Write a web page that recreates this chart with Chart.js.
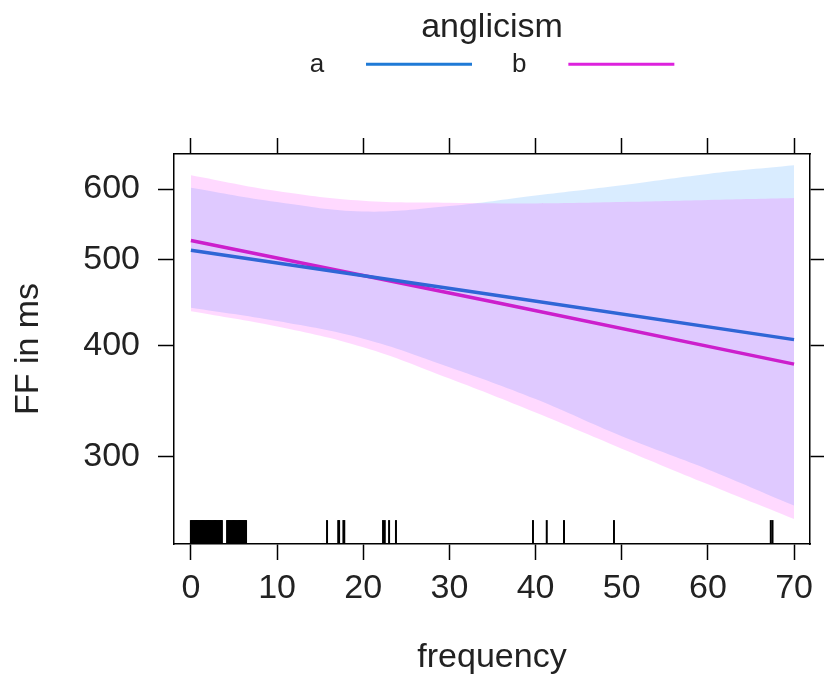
<!DOCTYPE html>
<html>
<head>
<meta charset="utf-8">
<script src="https://cdn.jsdelivr.net/npm/chart.js@4.4.0/dist/chart.umd.min.js"></script>
<style>
  html, body { margin: 0; padding: 0; background: #fff; }
</style>
</head>
<body>
<canvas id="chart" width="824" height="683"></canvas>
<script>
// effect of frequency on FF, per anglicism group
const groups = ['a', 'b'];

const bandX = [0, 10, 20, 30, 40, 50, 60, 70];
const upperA = [602, 580, 566, 574, 590, 606, 624, 638];
const lowerA = [441, 426, 407, 378, 348, 316, 290, 264];
const upperB = [622, 597, 582, 579, 578, 580, 583, 586];
const lowerB = [437, 420, 398, 367, 336, 306, 279, 255];

const fitX = [0, 35, 70];
const fitA = [512, 456, 406];
const fitB = [525, 448, 381];

// rug of observed frequencies
const rugX = [0, 0.1, 0.2, 0.3, 0.4, 0.5, 0.6, 0.7, 0.8, 0.9, 1, 1.1, 1.2, 1.3, 1.4, 1.5, 1.6, 1.7, 1.8,
  1.9, 2, 2.1, 2.2, 2.3, 2.4, 2.5, 2.6, 2.7, 2.8, 2.9, 3, 3.1, 3.2, 3.3, 3.4, 3.5, 3.6,
  4.2, 4.3, 4.4, 4.5, 4.6, 4.7, 4.8, 4.9, 5, 5.1, 5.2, 5.3, 5.4, 5.5, 5.6, 5.7, 5.8, 5.9, 6, 6.1, 6.2, 6.3, 6.4,
  15.8, 17.1, 17.2, 17.7, 17.8, 22.3, 22.5, 23, 23.8, 39.7, 41.3, 43.3, 49.1, 67.3, 67.5];
const rugY = 246.5;

const xTicks = [0, 10, 20, 30, 40, 50, 60, 70];
const yTicks = [300, 400, 500, 600];

const lineColors = ['#2f66d6', '#cc1fcc'];
const legendColors = ['#1f7ad6', '#dd22dd'];

Chart.defaults.font.family = '"Liberation Sans", Arial, sans-serif';
Chart.defaults.color = '#222';

const pts = (xs, ys) => xs.map((x, i) => ({ x: x, y: ys[i] }));
const txt = { size: 34 };

function tickSet(list) {
  return function (scale) { scale.ticks = list.map(v => ({ value: v })); };
}

const frame = { color: '#000', width: 1.5 };
const tickGrid = { drawOnChartArea: false, tickLength: 16, tickWidth: 1.5, tickColor: '#000' };

function band(label, data, fill, color) {
  return {
    label: label, data: data, fill: fill, backgroundColor: color,
    borderColor: 'rgba(0,0,0,0)', pointRadius: 0, tension: 0.4
  };
}

new Chart(document.getElementById('chart'), {
  type: 'line',
  data: {
    datasets: [
      { label: 'a', data: pts(fitX, fitA), borderColor: lineColors[0], borderWidth: 3.5, pointRadius: 0, fill: false },
      { label: 'b', data: pts(fitX, fitB), borderColor: lineColors[1], borderWidth: 3.5, pointRadius: 0, fill: false },
      {
        label: 'rug', data: rugX.map(x => ({ x: x, y: rugY })), showLine: false,
        pointStyle: 'line', rotation: 90, pointRadius: 12, borderColor: '#000', borderWidth: 2
      },
      band('b upper', pts(bandX, upperB), '+1', 'rgba(255,0,255,0.15)'),
      band('b lower', pts(bandX, lowerB), false, 'rgba(0,0,0,0)'),
      band('a upper', pts(bandX, upperA), '+1', 'rgba(0,128,255,0.15)'),
      band('a lower', pts(bandX, lowerA), false, 'rgba(0,0,0,0)')
    ]
  },
  options: {
    responsive: false,
    animation: false,
    events: [],
    layout: { padding: 0 },
    plugins: {
      tooltip: { enabled: false },
      legend: {
        position: 'top',
        fullSize: false,
        rtl: true,
        reverse: true,
        title: {
          display: true, text: 'anglicism', color: '#222',
          font: { size: 34, lineHeight: 0.01 }, padding: { top: 11, bottom: 0 }
        },
        labels: {
          boxWidth: 106, boxHeight: 3, padding: 40, color: '#222', font: { size: 26 },
          generateLabels: () => groups.map((g, i) => ({
            text: g + '\u00a0\u00a0\u00a0\u00a0', fillStyle: legendColors[i], strokeStyle: legendColors[i],
            lineWidth: 0, hidden: false, datasetIndex: i
          }))
        }
      }
    },
    scales: {
      x: {
        type: 'linear', position: 'bottom', min: -1.96, max: 71.85,
        afterBuildTicks: tickSet(xTicks),
        ticks: { font: txt, padding: 8, maxRotation: 0, autoSkip: false },
        grid: tickGrid, border: frame,
        title: { display: true, text: 'frequency', font: txt, padding: { bottom: 5 } },
        afterFit: s => { s.height = 139; }
      },
      x2: {
        type: 'linear', position: 'top', min: -1.96, max: 71.85,
        afterBuildTicks: tickSet(xTicks),
        ticks: { display: false },
        grid: tickGrid, border: frame,
        afterFit: s => { s.height = 154 - (s.chart.legend ? s.chart.legend.height : 87); }
      },
      y: {
        type: 'logarithmic', position: 'left', min: 239, max: 657,
        afterBuildTicks: tickSet(yTicks),
        ticks: { font: txt, padding: 18, autoSkip: false, callback: v => String(v) },
        grid: tickGrid, border: frame,
        title: { display: true, text: 'FF in ms', font: txt, padding: { top: 8 } },
        afterFit: s => { s.width = 174; }
      },
      y2: {
        type: 'logarithmic', position: 'right', min: 239, max: 657,
        afterBuildTicks: tickSet(yTicks),
        ticks: { display: false },
        grid: tickGrid, border: frame,
        afterFit: s => { s.width = 10; }
      }
    }
  }
});
</script>
</body>
</html>
